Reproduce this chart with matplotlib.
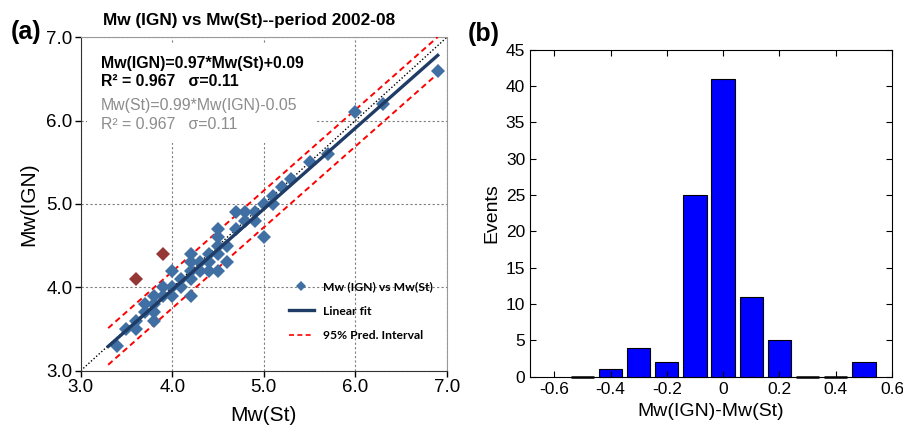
import matplotlib.pyplot as plt
import numpy as np

plt.rcParams['font.family'] = ['Liberation Sans', 'DejaVu Sans']

# Scatter data: Mw(St) vs Mw(IGN)
mw_st = [3.4, 3.5, 3.6, 3.6, 3.7, 3.7, 3.8, 3.8, 3.8, 3.8, 3.9, 3.9,
         4.0, 4.0, 4.0, 4.1, 4.1, 4.2, 4.2, 4.2, 4.2, 4.2, 4.3, 4.3,
         4.4, 4.4, 4.4, 4.5, 4.5, 4.5, 4.5, 4.5, 4.6, 4.6, 4.7, 4.7,
         4.8, 4.8, 4.9, 4.9, 5.0, 5.0, 5.1, 5.1, 5.2, 5.3, 5.5, 5.7,
         6.0, 6.3, 6.9]
mw_ign = [3.3, 3.5, 3.5, 3.6, 3.7, 3.8, 3.6, 3.7, 3.8, 3.9, 4.0, 3.9,
          3.9, 4.0, 4.2, 4.0, 4.1, 3.9, 4.1, 4.2, 4.3, 4.4, 4.2, 4.3,
          4.2, 4.3, 4.4, 4.2, 4.4, 4.5, 4.6, 4.7, 4.3, 4.5, 4.7, 4.9,
          4.8, 4.9, 4.8, 4.9, 5.0, 4.6, 5.0, 5.1, 5.2, 5.3, 5.5, 5.6,
          6.1, 6.2, 6.6]
# outliers (dark red)
out_st = [3.6, 3.9]
out_ign = [4.1, 4.4]

fit_slope, fit_icpt = 0.97, 0.09
pred_half = 0.22
fit_range = [3.3, 6.9]

# Histogram of differences
bin_centers = [-0.5, -0.4, -0.3, -0.2, -0.1, 0.0, 0.1, 0.2, 0.3, 0.4, 0.5]
counts = [0, 1, 4, 2, 25, 41, 11, 5, 0, 0, 2]

fig = plt.figure(figsize=(9.04, 4.28), dpi=100)

# ---- panel (a)
ax = fig.add_axes([0.0893, 0.1339, 0.405, 0.779])
ax.set_xlim(3.0, 7.0)
ax.set_ylim(3.0, 7.0)
ticks = [3.0, 4.0, 5.0, 6.0, 7.0]
ax.set_xticks(ticks)
ax.set_yticks(ticks)
ax.set_xticklabels(['%.1f' % t for t in ticks], fontsize=13.5)
ax.set_yticklabels(['%.1f' % t for t in ticks], fontsize=13.5)
ax.tick_params(direction='out', length=4, width=1, pad=2)
ax.set_axisbelow(True)
ax.grid(True, color='#7f7f7f', linestyle=(0, (2, 2)), linewidth=0.8)
for s in ['top', 'right']:
    ax.spines[s].set_color('#999999')
    ax.spines[s].set_linewidth(0.8)
for s in ['left', 'bottom']:
    ax.spines[s].set_color('#333333')

# white box behind the equations
ax.add_patch(plt.Rectangle((0.017, 0.683), 0.629, 0.30, transform=ax.transAxes,
                           facecolor='white', edgecolor='none', zorder=1))

xx = np.array(fit_range)
ax.plot([3.0, 7.0], [3.0, 7.0], color='black', linestyle=(0, (1, 1.5)), lw=1.0, zorder=2)
ax.plot(xx, fit_slope * xx + fit_icpt + pred_half, color='#ff0000', ls=(0, (3, 2)), lw=1.4, zorder=3)
ax.plot(xx, fit_slope * xx + fit_icpt - pred_half, color='#ff0000', ls=(0, (3, 2)), lw=1.4, zorder=3)
sc, = ax.plot(mw_st, mw_ign, 'D', color='#3f6fa3', markersize=7.5, markeredgewidth=0, zorder=4)
ax.plot(out_st, out_ign, 'D', color='#953735', markersize=7, markeredgewidth=0, zorder=4)
fl, = ax.plot(xx, fit_slope * xx + fit_icpt, color='#1f3c66', lw=2.4, zorder=5)
pl, = ax.plot([], [], color='#ff0000', ls=(0, (3, 2)), lw=1.2)

ax.text(0.0555, 0.922, 'Mw(IGN)=0.97*Mw(St)+0.09', transform=ax.transAxes,
        fontsize=11.4, fontweight='bold', va='center', zorder=6)
ax.text(0.0555, 0.867, 'R² = 0.967   σ=0.11', transform=ax.transAxes,
        fontsize=11.4, fontweight='bold', va='center', zorder=6)
ax.text(0.0555, 0.794, 'Mw(St)=0.99*Mw(IGN)-0.05', transform=ax.transAxes,
        fontsize=11.4, color='#8c8c8c', va='center', zorder=6)
ax.text(0.0555, 0.737, 'R² = 0.967   σ=0.11', transform=ax.transAxes,
        fontsize=11.4, color='#8c8c8c', va='center', zorder=6)

leg = ax.legend([sc, fl, pl], ['Mw (IGN) vs Mw(St)', 'Linear fit', '95% Pred. Interval'],
                loc='upper left', bbox_to_anchor=(0.57, 0.268), frameon=False,
                prop={'family': 'Lato', 'weight': 'bold', 'size': 8.7},
                handlelength=2.0, handletextpad=0.8, labelspacing=1.1,
                borderpad=0, borderaxespad=0, numpoints=1)
leg.legend_handles[0].set_markersize(5.5)

ax.set_xlabel('Mw(St)', fontsize=15, labelpad=7)
ax.set_ylabel('Mw(IGN)', fontsize=15, labelpad=6)
ax.set_title('Mw (IGN) vs Mw(St)--period 2002-08', fontsize=12.4, fontweight='bold', pad=9, x=0.461)
fig.text(0.012, 0.925, '(a)', fontsize=18, fontweight='bold', va='center')

# ---- panel (b)
bx = fig.add_axes([0.5863, 0.1199, 0.4004, 0.764])
bars = bx.bar(bin_centers, counts, width=0.083, color='#0000ff', edgecolor='black', linewidth=0.8)
for b, c in zip(bars, counts):
    b.set_clip_on(False)
    if c == 0:
        b.set_linewidth(1.8)
        b.set_zorder(3)
bx.set_xlim(-0.686, 0.6)
bx.set_ylim(0, 45)
bx.set_xticks([-0.6, -0.4, -0.2, 0, 0.2, 0.4, 0.6])
bx.set_xticklabels(['-0.6', '-0.4', '-0.2', '0', '0.2', '0.4', '0.6'])
bx.set_yticks(range(0, 46, 5))
bx.tick_params(direction='in', length=4, width=0.8, top=True, right=True, labelsize=12.5)
for s in bx.spines.values():
    s.set_linewidth(0.8)
bx.set_ylabel('Events', fontsize=14, labelpad=4)
bx.set_xlabel('Mw(IGN)-Mw(St)', fontsize=14, labelpad=5)
fig.text(0.517, 0.92, '(b)', fontsize=18, fontweight='bold', va='center')

fig.savefig('out.png', dpi=100)
